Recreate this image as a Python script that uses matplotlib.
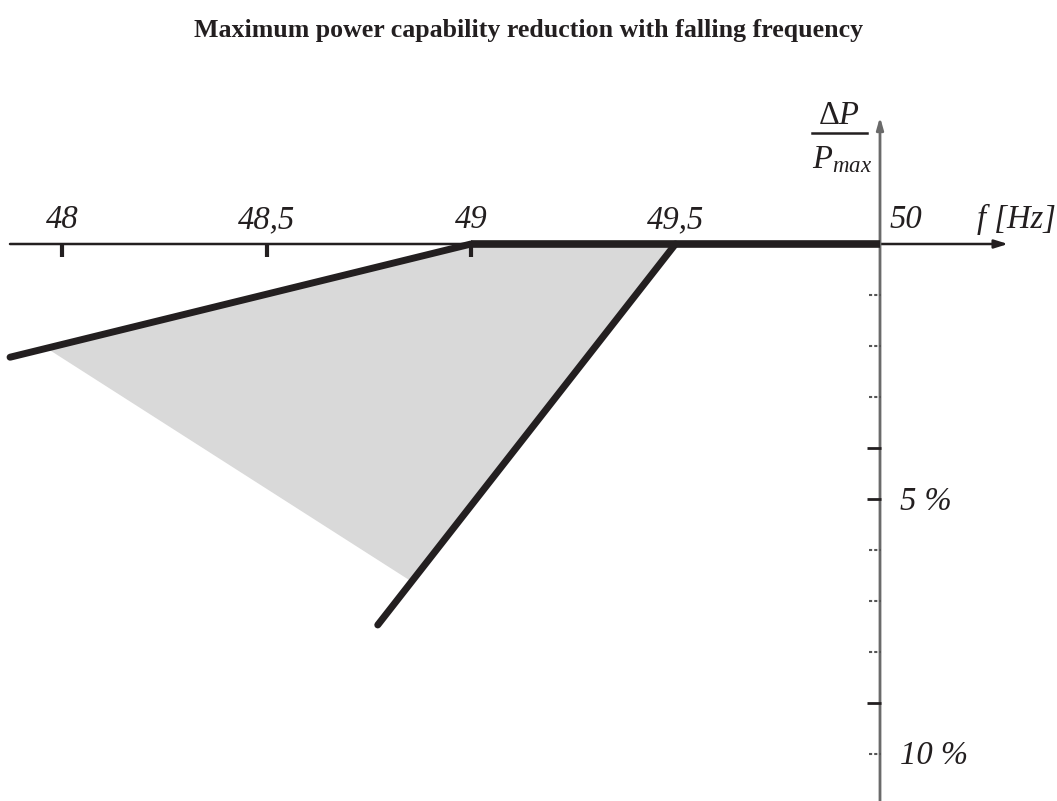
import matplotlib
matplotlib.use("Agg")
import matplotlib.pyplot as plt
from matplotlib.patches import Polygon

plt.rcParams["mathtext.fontset"] = "custom"
plt.rcParams["mathtext.rm"] = "Liberation Serif"
plt.rcParams["mathtext.it"] = "Liberation Serif:italic"

# ---- data (frequency in Hz, power reduction in % of P_max, downward positive) ----
freq_ticks = [48.0, 48.5, 49.0, 49.5, 50.0]
freq_labels = ["48", "48,5", "49", "49,5", "50"]

# upper (2 %/Hz) limit line
upper_f = [47.873, 49.0]
upper_p = [2.22, 0.0]
# lower (10 %/Hz) limit line
lower_f = [49.5, 48.772]
lower_p = [0.0, 7.47]
# zero-reduction segment
flat_f = [49.0, 50.0]
flat_p = [0.0, 0.0]
# shaded admissible region
shade_f = [49.0, 49.5, 48.855, 47.962]
shade_p = [0.0, 0.0, 6.62, 2.04]

# y-axis ticks (in %) and which are long
ytick_pos = [1, 2, 3, 4, 5, 6, 7, 8, 9, 10]
ytick_major = [False, False, False, True, True, False, False, False, True, False]
ylab_pos = [5, 10]
ylab_text = ["5 %", "10 %"]

title = "Maximum power capability reduction with falling frequency"

INK = "#231f20"
W, H = 1057, 801
PXF = 409.0   # px per Hz
PXP = 51.0    # px per %
fig = plt.figure(figsize=(W / 100, H / 100), dpi=100)
ax = fig.add_axes([0, 0, 1, 1])
ax.set_xlim(48 - 62 / PXF, 48 + (W - 62) / PXF)
ax.set_ylim((H - 244) / PXP, -244 / PXP)
ax.axis("off")

serif = ["Liberation Serif", "DejaVu Serif"]

def fx(px):
    return 48 + (px - 62) / PXF

def py(p):
    return (p - 244) / PXP

# shading
ax.add_patch(Polygon(list(zip(shade_f, shade_p)), closed=True,
                     facecolor="#d9d9d9", edgecolor="none", zorder=1))

# horizontal axis with arrow
ax.annotate("", xy=(fx(1008), 0), xytext=(fx(10), 0),
            arrowprops=dict(arrowstyle="-|>,head_length=0.8,head_width=0.25",
                            color=INK, lw=1.8, shrinkA=0, shrinkB=0), zorder=3)
# vertical axis with arrow
ax.annotate("", xy=(50.0, py(117)), xytext=(50.0, py(H)),
            arrowprops=dict(arrowstyle="-|>,head_length=0.7,head_width=0.2",
                            color="#6a6a6a", lw=2.0, shrinkA=0, shrinkB=0), zorder=3)

# x ticks (below the axis)
for f in freq_ticks[:3]:
    ax.plot([f, f], [0, 13 / PXP], color=INK, lw=3, solid_capstyle="butt", zorder=3)
# x labels
for f, lab in zip(freq_ticks, freq_labels):
    xoff = 26 / PXF if lab == "50" else 0
    ax.text(f + xoff, py(228), lab, ha="center", va="baseline",
            fontsize=23.5, style="italic", family=serif, color=INK)
ax.text(fx(977), py(228), "f [Hz]", ha="left", va="baseline",
        fontsize=23.5, style="italic", family=serif, color=INK)

# y ticks
for yp, mj in zip(ytick_pos, ytick_major):
    L = 13 / PXF if mj else 11 / PXF
    ax.plot([50 - L, 50 + 1 / PXF], [yp, yp], color=INK if mj else "#555555",
            lw=2 if mj else 1.5, ls="-" if mj else (0, (1.5, 1)),
            solid_capstyle="butt", zorder=3)
for yp, lab in zip(ylab_pos, ylab_text):
    ax.text(50 + 20 / PXF, yp + 10.5 / PXP, lab, ha="left", va="baseline",
            fontsize=23.5, style="italic", family=serif, color=INK)

# delta P / Pmax label
cx = fx(839)
ax.text(cx, py(124), r"$\Delta P$", ha="center", va="baseline",
        fontsize=23.5, color=INK)
ax.plot([fx(812), fx(867)], [py(133)] * 2, color=INK, lw=1.8)
ax.text(fx(842), py(168), r"$P_{max}$", ha="center", va="baseline",
        fontsize=23.5, color=INK)

# limit lines
ax.plot(flat_f, flat_p, color=INK, lw=5.5, solid_capstyle="butt", zorder=4)
ax.plot(upper_f, upper_p, color=INK, lw=5, solid_capstyle="round", zorder=4)
ax.plot(lower_f, lower_p, color=INK, lw=5, solid_capstyle="round", zorder=4)

fig.text(0.5, 1 - 37 / H, title, ha="center", va="baseline",
         fontsize=18.6, fontweight="bold", family=serif, color=INK)

fig.savefig("out.png", dpi=100, facecolor="white")
